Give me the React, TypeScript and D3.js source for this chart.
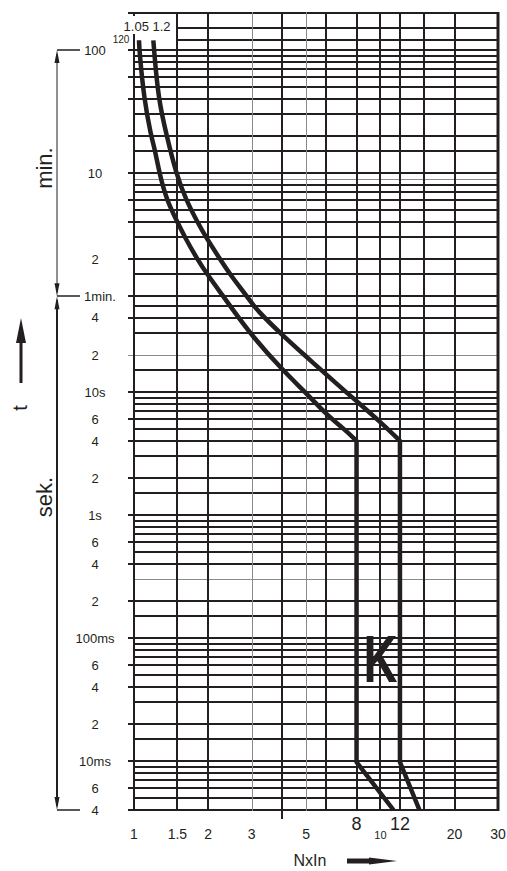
import React from "react";
import * as d3 from "d3";

const W = 507;
const H = 871;

// Axis domains (multiple of In, time in seconds)
const xDomain: [number, number] = [1, 30];
const tDomain: [number, number] = [0.004, 12000];

// Vertical grid (multiples of In)
const xGrid = [1, 1.5, 2, 3, 4, 5, 6, 8, 10, 12, 15, 20, 30];
const xGridGrey = [3, 5];
const xTickValues = [1, 1.5, 2, 3, 5, 20, 30];
const xTickLabels = ["1", "1.5", "2", "3", "5", "20", "30"];
const xSmallValues = [10];
const xSmallLabels = ["10"];
const xBigValues = [8, 12];
const xBigLabels = ["8", "12"];
const xLongTick = [4];

// Horizontal grid (minutes and seconds)
const gridMinutes = [150, 120, 100, 90, 80, 70, 60, 50, 40, 30, 20, 15, 10, 9, 8, 7, 6, 5, 4, 3, 2, 1.5, 1];
const gridSeconds = [
  50, 40, 30, 20, 15, 10, 9, 8, 7, 6, 5, 4, 3, 2, 1.5,
  1, 0.9, 0.8, 0.7, 0.6, 0.5, 0.4, 0.3, 0.2, 0.15,
  0.1, 0.09, 0.08, 0.07, 0.06, 0.05, 0.04, 0.03, 0.02, 0.015,
  0.01, 0.009, 0.008, 0.007, 0.006, 0.005, 0.004,
];
const greyTimes = [540, 20, 0.3];
const shortGridTimes = [9000, 7200]; // start right of the label box
const tickTimes = [6000, 3600, 2400, 1200, 600, 360, 240, 120, 60, 40, 20, 10, 6, 4, 2, 1, 0.6, 0.4, 0.2, 0.1, 0.06, 0.04, 0.02, 0.01, 0.006, 0.004];
const yLabelTexts = ["100", "10", "2", "1min.", "4", "2", "10s", "6", "4", "2", "1s", "6", "4", "2", "100ms", "6", "4", "2", "10ms", "6", "4"];
const yLabelTimes = [6000, 600, 120, 60, 40, 20, 10, 6, 4, 2, 1, 0.6, 0.4, 0.2, 0.1, 0.06, 0.04, 0.02, 0.01, 0.006, 0.004];

// Tripping curves: [multiple, seconds]
const curve105Thermal: [number, number][] = [
  [1.048, 7200], [1.051, 6000], [1.098, 2412], [1.172, 1206], [1.217, 924],
  [1.267, 600], [1.357, 362], [1.498, 241], [1.61, 180], [1.806, 120],
  [1.984, 90], [2.3, 60], [2.53, 46], [3.0, 28.8], [4.01, 15], [5.02, 9.7],
  [6.01, 6.6], [7.2, 4.9], [8, 4],
];
const curve105Magnetic: [number, number][] = [[8, 4], [8, 0.0098], [11.3, 0.004]];
const curve12Thermal: [number, number][] = [
  [1.198, 7200], [1.206, 6000], [1.255, 2412], [1.357, 1206], [1.48, 600],
  [1.626, 362], [1.806, 241], [1.96, 180], [2.234, 120], [2.453, 90],
  [2.87, 60], [3.15, 46], [4.01, 28.8], [5.02, 19.2], [6.01, 13.9],
  [8.0, 8.4], [10.0, 5.7], [12, 4],
];
const curve12Magnetic: [number, number][] = [[12, 4], [12, 0.0098], [14.4, 0.004]];
const curveLabels = ["1.05", "1.2"];

const INK = "#231f20";
const FONT = "'Liberation Sans', Arial, Helvetica, sans-serif";

export default function App() {
  const x = d3.scaleLog().domain(xDomain).range([134, 498]);
  const y = d3.scaleLog().domain(tDomain).range([810, 13]);
  const xr = (v: number) => Math.round(x(v));
  const yr = (t: number) => Math.round(y(t));

  const smooth = d3
    .line<[number, number]>()
    .x((d) => x(d[0]))
    .y((d) => y(d[1]))
    .curve(d3.curveBasis);
  const straight = d3
    .line<[number, number]>()
    .x((d) => x(d[0]))
    .y((d) => y(d[1]));

  const pathFor = (a: [number, number][], b: [number, number][]) =>
    (smooth(a) || "") + (straight(b) || "").replace(/^M/, "L");

  const hTimes = [...gridMinutes.map((m) => m * 60), ...gridSeconds];
  const x0 = xr(1);
  const x1 = xr(30);
  const yTop = yr(tDomain[1]);
  const yBot = yr(tDomain[0]);
  const axX = 57;

  return (
    <svg
      width={W}
      height={H}
      style={{ position: "absolute", left: 0, top: 0, background: "#fff" }}
      fontFamily={FONT}
    >
      <rect x={0} y={0} width={W} height={H} fill="#fff" />
      {/* horizontal grid */}
      {hTimes.map((t, i) => {
        const grey = greyTimes.includes(t);
        const tick = tickTimes.includes(t);
        const short = shortGridTimes.includes(t);
        return (
          <line
            key={"h" + i}
            x1={short ? xr(1.5) : tick ? x0 - 6 : x0}
            x2={x1}
            y1={grey ? yr(t) + 0.5 : yr(t)}
            y2={grey ? yr(t) + 0.5 : yr(t)}
            stroke={grey ? "#8a8a8a" : INK}
            strokeWidth={grey ? 1 : 2}
          />
        );
      })}
      {/* top border */}
      <line x1={x0 - 6} x2={x1 + 1} y1={yTop} y2={yTop} stroke={INK} strokeWidth={2} />
      {/* vertical grid */}
      {xGrid.map((v, i) => {
        const grey = xGridGrey.includes(v);
        const long = xLongTick.includes(v);
        const edge = v === 30;
        return (
          <line
            key={"v" + i}
            x1={grey ? xr(v) + 0.5 : xr(v)}
            x2={grey ? xr(v) + 0.5 : xr(v)}
            y1={yTop - 1}
            y2={long ? yBot + 9 : yBot + 1}
            stroke={grey ? "#8a8a8a" : INK}
            strokeWidth={grey ? 1 : edge ? 3 : 2}
          />
        );
      })}
      {/* label box at top */}
      <rect x={x0 - 4} y={yTop + 3} width={xr(1.5) - x0 + 2} height={18} fill="#fff" />
      <line x1={xr(1.5)} x2={xr(1.5)} y1={yTop} y2={yTop + 22} stroke={INK} strokeWidth={2} />
      <text x={x(1.05) - 3} y={yTop + 18} fontSize={13} textAnchor="middle" fill={INK}>
        {curveLabels[0]}
      </text>
      <text x={x(1.2) + 8} y={yTop + 18} fontSize={13} textAnchor="middle" fill={INK}>
        {curveLabels[1]}
      </text>
      <text x={x0 - 13} y={y(7200) + 3} fontSize={10} textAnchor="middle" fill={INK}>
        120
      </text>

      {/* curves */}
      <path d={pathFor(curve105Thermal, curve105Magnetic)} fill="none" stroke={INK} strokeWidth={4.5} strokeLinejoin="round" />
      <path d={pathFor(curve12Thermal, curve12Magnetic)} fill="none" stroke={INK} strokeWidth={4.5} strokeLinejoin="round" />

      {/* K marker */}
      <text
        x={x(10) - 17}
        y={y(0.044)}
        fontSize={66}
        fontWeight="bold"
        textLength={34}
        lengthAdjust="spacingAndGlyphs"
        fill={INK}
      >
        K
      </text>

      {/* y labels */}
      {yLabelTexts.map((s, i) => (
        <text
          key={"yl" + i}
          x={s === "1min." ? 100 : 95}
          y={y(yLabelTimes[i])}
          dy="0.36em"
          fontSize={13}
          textAnchor="middle"
          fill={INK}
        >
          {s}
        </text>
      ))}

      {/* x labels */}
      {xTickLabels.map((s, i) => (
        <text key={"xl" + i} x={x(xTickValues[i])} y={yBot + 29} fontSize={14} textAnchor="middle" fill={INK}>
          {s}
        </text>
      ))}
      {xSmallLabels.map((s, i) => (
        <text key={"xs" + i} x={x(xSmallValues[i])} y={yBot + 29} fontSize={11} textAnchor="middle" fill={INK}>
          {s}
        </text>
      ))}
      {xBigLabels.map((s, i) => (
        <text key={"xb" + i} x={x(xBigValues[i])} y={yBot + 20} fontSize={18} textAnchor="middle" fill={INK}>
          {s}
        </text>
      ))}

      {/* x axis title with arrow */}
      <text x={310} y={866} fontSize={16} textAnchor="middle" fill={INK}>
        NxIn
      </text>
      <polygon
        points="347,858.5 369,858.5 369,857.5 397,861 369,864.5 369,863.5 347,863.5"
        fill={INK}
      />

      {/* left span annotations */}
      <line x1={axX} x2={axX} y1={y(6000) + 4} y2={y(60) - 4} stroke={INK} strokeWidth={1} />
      <line x1={axX} x2={axX} y1={y(60) + 4} y2={y(0.004) - 4} stroke={INK} strokeWidth={2} />
      {[6000, 60, 0.004].map((t, i) => (
        <line key={"sp" + i} x1={axX} x2={80} y1={yr(t)} y2={yr(t)} stroke={INK} strokeWidth={1.5} />
      ))}
      {/* arrowheads */}
      <polygon points={`${axX},${y(6000)} ${axX - 2.5},${y(6000) + 13} ${axX + 2.5},${y(6000) + 13}`} fill={INK} />
      <polygon points={`${axX},${y(60)} ${axX - 2.5},${y(60) - 13} ${axX + 2.5},${y(60) - 13}`} fill={INK} />
      <polygon points={`${axX},${y(60)} ${axX - 2.5},${y(60) + 13} ${axX + 2.5},${y(60) + 13}`} fill={INK} />
      <polygon points={`${axX},${y(0.004)} ${axX - 2.5},${y(0.004) - 13} ${axX + 2.5},${y(0.004) - 13}`} fill={INK} />

      <text transform={`translate(52,${(y(6000) + y(60)) / 2 - 5}) rotate(-90)`} fontSize={22} textAnchor="middle" fill={INK}>
        min.
      </text>
      <text transform={`translate(52,${y(1.4)}) rotate(-90)`} fontSize={22} textAnchor="middle" fill={INK}>
        sek.
      </text>

      {/* t with arrow */}
      <text transform="translate(27,408) rotate(-90)" fontSize={20} textAnchor="middle" fill={INK}>
        t
      </text>
      <polygon points="19.5,383 22.5,383 22.5,343 26,343 21,318 16,343 19.5,343" fill={INK} />
    </svg>
  );
}
